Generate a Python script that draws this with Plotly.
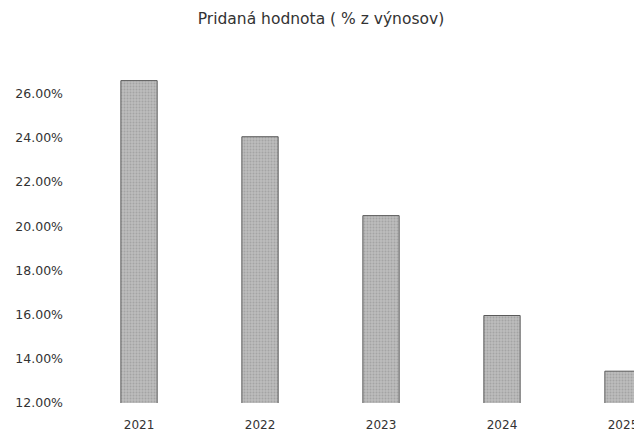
import plotly.graph_objects as go

years = ["2021", "2022", "2023", "2024", "2025"]
values = [0.2659, 0.2405, 0.2048, 0.1596, 0.1344]
y_ticks = [0.12, 0.14, 0.16, 0.18, 0.20, 0.22, 0.24, 0.26]
title = "Pridaná hodnota ( % z výnosov)"

# page body has an 8px default margin, so the figure is sized/shifted to compensate
W, H = 634, 426
L, T, B = 67, 62, 31

fig = go.Figure(
    go.Bar(
        x=years,
        y=values,
        width=0.30,
        marker=dict(
            color="#b0b0b0",
            line=dict(color="#5a5a5a", width=1),
            pattern=dict(shape=".", fgcolor="#8c8c8c", bgcolor="#bcbcbc", size=3, solidity=0.35),
        ),
    )
)

fig.update_layout(
    width=W,
    height=H,
    margin=dict(l=L, r=0, t=T, b=B),
    paper_bgcolor="white",
    plot_bgcolor="white",
    showlegend=False,
    font=dict(family="DejaVu Sans, sans-serif", color="#333333", size=11),
    title=dict(
        text=title,
        x=(313 - L) / (W - L),
        xref="paper",
        xanchor="center",
        y=1 - 11 / H,
        yref="container",
        yanchor="middle",
        pad=dict(t=0, b=0),
        font=dict(size=15.5, color="#333333"),
    ),
)

fig.update_xaxes(
    type="category",
    range=[-0.529, 4.157],
    showgrid=False,
    showline=False,
    zeroline=False,
    ticks="",
    ticklabelstandoff=13,
    tickfont=dict(size=12, color="#333333"),
)
fig.update_yaxes(
    range=[0.12, 0.2707],
    tickvals=y_ticks,
    tickformat=".2%",
    showgrid=False,
    showline=False,
    zeroline=False,
    ticks="",
    ticklabelstandoff=11,
    tickfont=dict(size=12.5, color="#333333"),
)

fig.write_html("out.html")
